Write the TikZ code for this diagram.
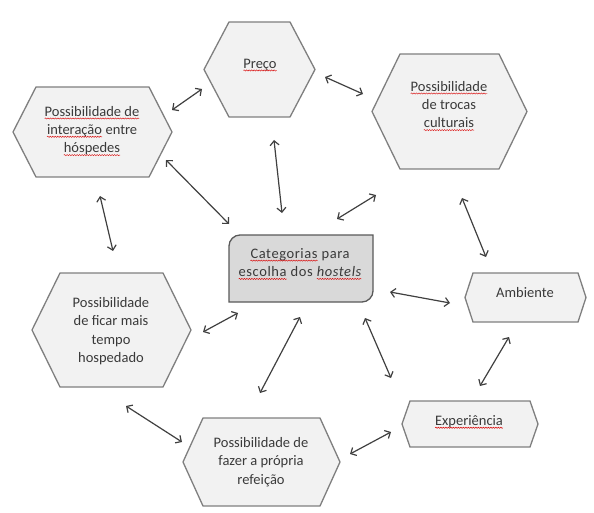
\documentclass[tikz,border=0pt]{standalone}
\usepackage{fontspec}
\setmainfont{Carlito}
\usetikzlibrary{arrows.meta,decorations.pathmorphing}
\definecolor{txtc}{HTML}{3A3A3A}
\definecolor{hexfill}{HTML}{F2F2F2}
\definecolor{hexline}{HTML}{7F7F7F}
\definecolor{boxfill}{HTML}{D9D9D9}
\definecolor{boxline}{HTML}{595959}
\definecolor{arrc}{HTML}{404040}
\newcommand\sqw[1]{\tikz[baseline=(sqwn.base)]{\node[inner sep=0pt,outer sep=0pt] (sqwn) {#1};
  \draw[red!85!black, line width=0.45pt, decorate, decoration={snake, amplitude=0.6pt, segment length=2.5pt}]
   ([yshift=-2.4pt]sqwn.base west) -- ([yshift=-2.4pt]sqwn.base east);}}
\newcommand\myhex[5]{% l r t b d
  \draw[hexshape] (#1,{(#3+#4)/2}) -- (#1+#5,#3) -- (#2-#5,#3) -- (#2,{(#3+#4)/2})
    -- (#2-#5,#4) -- (#1+#5,#4) -- cycle;}
\begin{document}
\begin{tikzpicture}[x=1pt,y=-1pt,
  hexshape/.style={fill=hexfill, draw=hexline, line width=1.3pt, line join=miter},
  lbl/.style={text=txtc, font=\fontsize{14.5}{18.3}\selectfont, align=center, inner sep=0pt},
  biarrow/.style={draw=arrc, line width=1.2pt, >={Straight Barb[length=4.5pt,width=9pt]}, <->}]
\useasboundingbox (0,0) rectangle (594,513);
% hexagons
\myhex{204}{315}{22}{117}{25}
\myhex{13}{172}{87}{177}{23}
\myhex{372}{527}{54}{169}{28}
\myhex{32}{191}{273}{387}{28}
\myhex{183}{340}{418}{506}{20}
\myhex{465}{586}{273}{322}{8}
\myhex{402}{538}{401}{447}{8}
% centre box
\draw[fill=boxfill, draw=boxline, line width=1.3pt]
  (229,302) -- (229,246) .. controls (229,240) and (234,235) .. (240,235) -- (373,235)
  -- (373,291) .. controls (373,297) and (368,302) .. (362,302) -- cycle;
% texts
\node[lbl] (pre) at (260,65) {\sqw{Preço}};
\node[lbl] (int) at (92,131) {\sqw{Possibilidade de}\\\sqw{interação} entre\\\sqw{hóspedes}};
\node[lbl] (tro) at (449,106) {\sqw{Possibilidade}\\de trocas\\\sqw{culturais}};
\node[lbl] (fic) at (111,331) {Possibilidade\\de ficar mais\\tempo\\hospedado};
\node[lbl] (ref) at (261,462) {Possibilidade de\\fazer a própria\\refeição};
\node[lbl] (amb) at (525,293) {Ambiente};
\node[lbl] (exp) at (469,422) {\sqw{Experiência}};
\node[lbl, font=\fontsize{14.5}{18.3}\selectfont\addfontfeature{LetterSpace=4}] (cat) at (300,264)
  {\sqw{Categorias} para\\\sqw{escolha} dos \textit{\sqw{hostels}}};
% arrow end points
\coordinate (a1s) at (172,110); \coordinate (a1e) at (202,89);
\coordinate (a2s) at (325,77);  \coordinate (a2e) at (363,94);
\coordinate (a3s) at (274,140); \coordinate (a3e) at (282,213);
\coordinate (a4s) at (166,160); \coordinate (a4e) at (229,224);
\coordinate (a5s) at (100,196); \coordinate (a5e) at (113,251);
\coordinate (a6s) at (376,195); \coordinate (a6e) at (337,219);
\coordinate (a7s) at (462,198); \coordinate (a7e) at (486,257);
\coordinate (a8s) at (390,292); \coordinate (a8e) at (450,303);
\coordinate (a9s) at (365,318); \coordinate (a9e) at (391,378);
\coordinate (a10s) at (509,337); \coordinate (a10e) at (480,386);
\coordinate (a11s) at (238,313); \coordinate (a11e) at (203,332);
\coordinate (a12s) at (300,317); \coordinate (a12e) at (260,393);
\coordinate (a13s) at (126,406); \coordinate (a13e) at (182,442);
\coordinate (a14s) at (391,432); \coordinate (a14e) at (350,454);
\foreach \i in {1,...,14} { \draw[biarrow] (a\i s) -- (a\i e); }
\end{tikzpicture}
\end{document}
